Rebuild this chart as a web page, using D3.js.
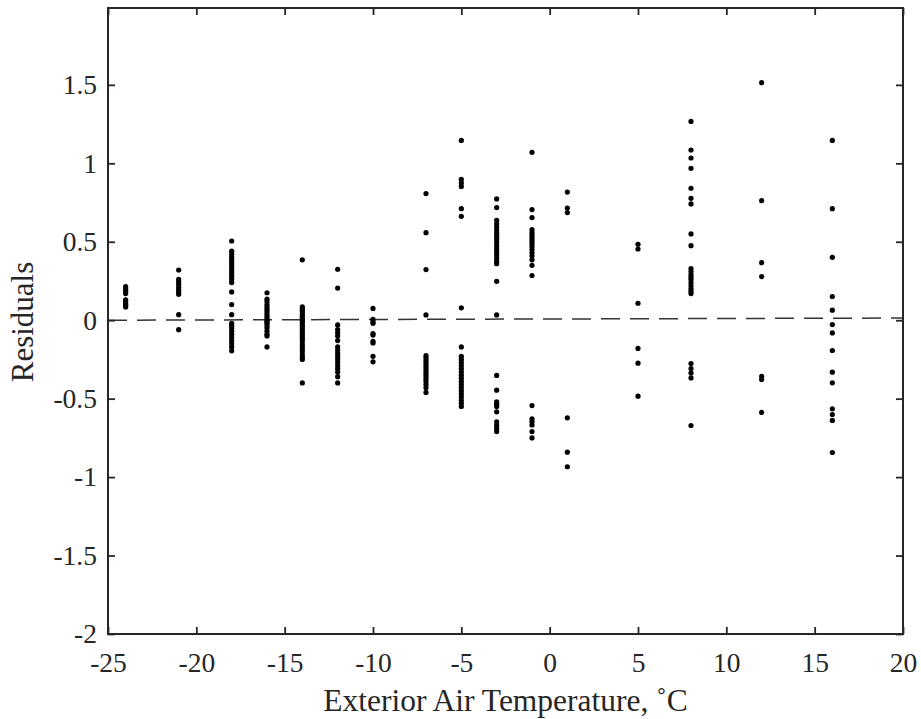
<!DOCTYPE html>
<html>
<head>
<meta charset="utf-8">
<script src="https://cdn.jsdelivr.net/npm/d3@7"></script>
<style>
  body { margin: 0; background: #fff; }
  svg text { font-family: "Liberation Serif", "Times New Roman", serif; fill: #262626; }
</style>
</head>
<body>
<svg id="chart" width="921" height="719"></svg>
<script>
// outside temperatures where residuals were measured
var temps = [-24, -21, -18, -16, -14, -12, -10, -7, -5, -3, -1, 1, 5, 8, 12, 16];

// residuals for each temperature (same order as temps)
var res_m24 = [0.215, 0.20, 0.185, 0.17, 0.13, 0.12, 0.105, 0.095, 0.085];
var res_m21 = [0.32, 0.26, 0.245, 0.23, 0.21, 0.195, 0.18, 0.165, 0.035, -0.06];
var res_m18 = [0.505, 0.44, 0.42, 0.40, 0.385, 0.37, 0.35, 0.33, 0.315, 0.30, 0.28, 0.26, 0.24, 0.18, 0.10, 0.035,
               -0.02, -0.035, -0.05, -0.07, -0.09, -0.11, -0.13, -0.15, -0.17, -0.195];
var res_m16 = [0.175, 0.135, 0.12, 0.10, 0.085, 0.07, 0.055, 0.04, 0.025, 0.01, 0.0, -0.01, -0.02, -0.035,
               -0.05, -0.07, -0.09, -0.10, -0.17];
var res_m14 = [0.385, 0.085, 0.07, 0.055, 0.04, 0.025, 0.01, 0.0, -0.01, -0.025, -0.04, -0.055, -0.07, -0.085,
               -0.10, -0.115, -0.13, -0.15, -0.165, -0.18, -0.20, -0.22, -0.235, -0.25, -0.40];
var res_m12 = [0.325, 0.205, -0.03, -0.06, -0.08, -0.10, -0.13, -0.17, -0.19, -0.21, -0.23, -0.25, -0.27, -0.29,
               -0.31, -0.33, -0.36, -0.40];
var res_m10 = [0.075, 0.005, -0.01, -0.02, -0.085, -0.095, -0.135, -0.145, -0.23, -0.265];
var res_m7 = [0.807, 0.558, 0.323, 0.034, -0.225, -0.24, -0.255, -0.27, -0.285, -0.30, -0.315, -0.33, -0.345,
              -0.36, -0.375, -0.39, -0.41, -0.43, -0.46];
var res_m5 = [1.146, 0.898, 0.875, 0.853, 0.711, 0.662, 0.079, -0.17, -0.23, -0.25, -0.27, -0.29, -0.31, -0.33,
              -0.35, -0.37, -0.39, -0.41, -0.43, -0.45, -0.47, -0.49, -0.51, -0.53, -0.55];
var res_m3 = [0.773, 0.718, 0.637, 0.615, 0.595, 0.575, 0.555, 0.535, 0.515, 0.495, 0.475, 0.455, 0.435, 0.415,
              0.395, 0.375, 0.36, 0.248, 0.034, -0.352, -0.446, -0.52, -0.535, -0.55, -0.584, -0.648, -0.67,
              -0.69, -0.71];
var res_m1 = [1.07, 0.705, 0.654, 0.578, 0.56, 0.545, 0.53, 0.515, 0.50, 0.485, 0.47, 0.45, 0.43, 0.41, 0.385,
              0.35, 0.285, -0.544, -0.628, -0.647, -0.668, -0.71, -0.75];
var res_p1 = [0.817, 0.715, 0.686, -0.622, -0.841, -0.934];
var res_p5 = [0.484, 0.454, 0.108, -0.18, -0.274, -0.484];
var res_p8 = [1.267, 1.085, 1.034, 0.968, 0.841, 0.777, 0.741, 0.55, 0.475, 0.329, 0.31, 0.29, 0.275, 0.26,
              0.24, 0.22, 0.20, 0.185, 0.17, -0.276, -0.308, -0.336, -0.368, -0.671];
var res_p12 = [1.514, 0.762, 0.367, 0.278, -0.357, -0.378, -0.588];
var res_p16 = [1.146, 0.711, 0.401, 0.151, 0.064, -0.028, -0.081, -0.193, -0.331, -0.399, -0.565, -0.601,
               -0.639, -0.843];

var residuals = [res_m24, res_m21, res_m18, res_m16, res_m14, res_m12, res_m10, res_m7, res_m5,
                 res_m3, res_m1, res_p1, res_p5, res_p8, res_p12, res_p16];

// dashed reference (fit) line
var fitX = [-25, 20];
var fitY = [0.0, 0.014];

var xTicks = [-25, -20, -15, -10, -5, 0, 5, 10, 15, 20];
var yTicks = [-2, -1.5, -1, -0.5, 0, 0.5, 1, 1.5];

var LEFT = 108, TOP = 8, RIGHT = 903, BOTTOM = 634;
var AXIS_COLOR = '#262626';
var FONT = '"Liberation Serif", "Times New Roman", serif';

var svg = d3.select('#chart');

var x = d3.scaleLinear().domain([-25, 20]).range([LEFT, RIGHT]);
var y = d3.scaleLinear().domain([-2, 1.99]).range([BOTTOM, TOP]);

var points = [];
temps.forEach(function(t, i){
  residuals[i].forEach(function(v){
    points.push({'t': t, 'v': v});
  });
});

// dashed line
var line = d3.line()
  .x(function(d){ return x(d[0]); })
  .y(function(d){ return y(d[1]); });

svg.append('path')
  .datum(fitX.map(function(d, i){ return [d, fitY[i]]; }))
  .attr('d', line)
  .attr('fill', 'none')
  .attr('stroke', '#333333')
  .attr('stroke-width', 1.5)
  .attr('stroke-dasharray', '19,10');

svg.selectAll('.res_dot')
  .data(points)
  .enter()
  .append('circle')
  .attr('class', 'res_dot')
  .attr('cx', function(d){ return x(d.t); })
  .attr('cy', function(d){ return y(d.v); })
  .attr('r', 2.6)
  .attr('fill', '#000');

// axes, ticks pointing inward (matlab style box)
function style_axis(g){
  g.attr('font-family', FONT).attr('font-size', 27.5);
  g.select('.domain').remove();
  g.selectAll('.tick line').attr('stroke', AXIS_COLOR).attr('stroke-width', 1.8);
  g.selectAll('.tick text')
    .attr('fill', AXIS_COLOR)
    .style('font-family', FONT)
    .style('font-size', '27.5px');
}

svg.append('g')
  .attr('transform', 'translate(0,' + BOTTOM + ')')
  .call(d3.axisBottom(x).tickValues(xTicks).tickSize(-7).tickPadding(18)
        .tickFormat(function(d){ return String(d); }))
  .call(style_axis);

svg.append('g')
  .attr('transform', 'translate(0,' + TOP + ')')
  .call(d3.axisTop(x).tickValues(xTicks).tickSize(-7).tickFormat(''))
  .call(style_axis);

svg.append('g')
  .attr('transform', 'translate(' + LEFT + ',0)')
  .call(d3.axisLeft(y).tickValues(yTicks).tickSize(-7).tickPadding(11)
        .tickFormat(function(d){ return String(d); }))
  .call(style_axis);

svg.append('g')
  .attr('transform', 'translate(' + RIGHT + ',0)')
  .call(d3.axisRight(y).tickValues(yTicks).tickSize(-7).tickFormat(''))
  .call(style_axis);

svg.append('rect')
  .attr('x', LEFT)
  .attr('y', TOP)
  .attr('width', RIGHT - LEFT)
  .attr('height', BOTTOM - TOP)
  .attr('fill', 'none')
  .attr('stroke', AXIS_COLOR)
  .attr('stroke-width', 2);

// labels
svg.append('text')
  .attr('x', (LEFT + RIGHT) / 2)
  .attr('y', 711)
  .attr('text-anchor', 'middle')
  .style('font-size', '31.5px')
  .text('Exterior Air Temperature, \u02DAC');

svg.append('text')
  .attr('transform', 'translate(33,322) rotate(-90)')
  .attr('text-anchor', 'middle')
  .style('font-size', '31px')
  .text('Residuals');
</script>
</body>
</html>
